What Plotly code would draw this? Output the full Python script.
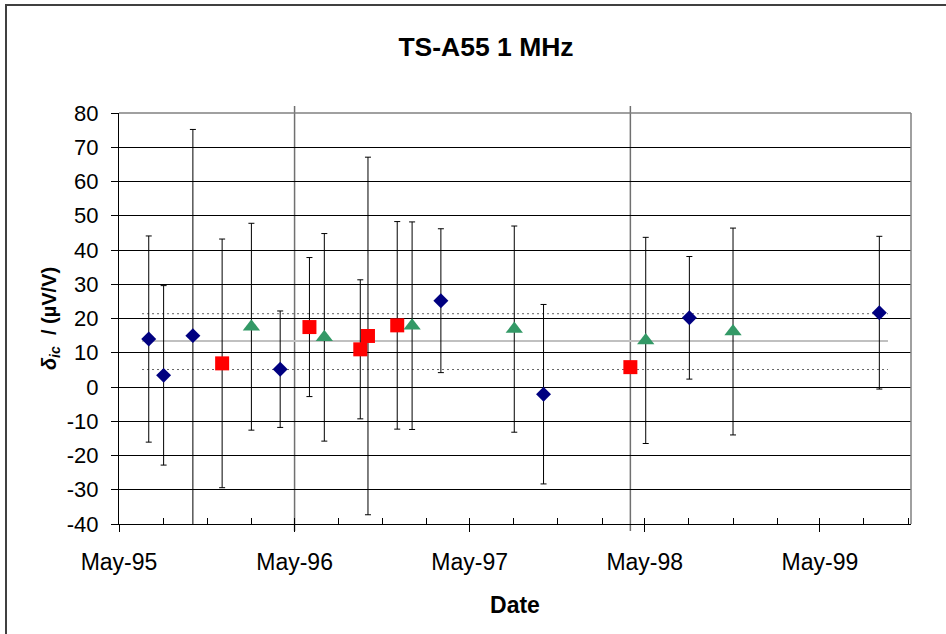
import plotly.graph_objects as go

# Measurement campaigns: date, deviation (µV/V) and expanded uncertainty
lab_a_dates = ["1995-07-02", "1995-08-02", "1995-10-02", "1996-04-01",
               "1997-03-02", "1997-10-02", "1998-08-02", "1999-09-02"]
lab_a_values = [14.0, 3.4, 15.0, 5.2, 25.2, -2.1, 20.2, 21.7]
lab_a_errors = [30.1, 26.2, 60.2, 17.0, 21.0, 26.2, 17.9, 22.3]

lab_b_dates = ["1995-12-02", "1996-06-01", "1996-09-15", "1996-10-01",
               "1996-12-01", "1998-04-01"]
lab_b_values = [6.9, 17.5, 11.0, 14.9, 18.0, 5.8]
lab_b_errors = [36.3, 20.3, 20.3, 52.2, 30.3, 0.0]

lab_c_dates = ["1996-02-01", "1996-07-02", "1997-01-01", "1997-08-02",
               "1998-05-03", "1998-11-01"]
lab_c_values = [17.6, 14.5, 17.9, 16.9, 13.6, 16.2]
lab_c_errors = [30.2, 30.3, 30.3, 30.1, 30.1, 30.2]

# Mean value and its band, drawn over the whole period
band_dates = ["1995-06-18", "1999-09-20"]
mean_value = 13.4
band_upper = 21.4
band_lower = 5.1

# Event markers (full-height vertical lines)
event_dates = ["1996-05-01", "1998-04-01"]

x_range = ["1995-05-01", "1999-11-07"]
tick_dates = ["1995-05-01", "1996-05-01", "1997-05-01", "1998-05-01", "1999-05-01"]
tick_labels = ["May-95", "May-96", "May-97", "May-98", "May-99"]
y_ticks = [-40, -30, -20, -10, 0, 10, 20, 30, 40, 50, 60, 70, 80]
y_tick_labels = [str(v) for v in y_ticks]

FONT = "Liberation Sans, Arial, sans-serif"
NARROW = "Liberation Sans Narrow, Arial Narrow, Liberation Sans, sans-serif"

fig = go.Figure()

# Reference band lines
for level in (band_upper, band_lower):
    fig.add_trace(go.Scatter(x=band_dates, y=[level] * 2, mode="lines",
                             line=dict(color="#666666", width=1, dash="2px,3px"),
                             hoverinfo="skip", showlegend=False))
fig.add_trace(go.Scatter(x=band_dates, y=[mean_value] * 2, mode="lines",
                         line=dict(color="#c0c0c0", width=2),
                         hoverinfo="skip", showlegend=False))

err_style = dict(type="data", visible=True, color="black", thickness=1, width=3)

fig.add_trace(go.Scatter(
    x=lab_a_dates, y=lab_a_values, mode="markers",
    marker=dict(symbol="diamond", size=11.5, color="#000080"),
    error_y=dict(array=lab_a_errors, **err_style), showlegend=False))
fig.add_trace(go.Scatter(
    x=lab_b_dates, y=lab_b_values, mode="markers",
    marker=dict(symbol="square", size=14, color="#ff0000"),
    error_y=dict(array=lab_b_errors, **err_style), showlegend=False))
fig.add_trace(go.Scatter(
    x=lab_c_dates, y=lab_c_values, mode="markers",
    marker=dict(symbol="triangle-up", size=15, color="#339966"),
    error_y=dict(array=lab_c_errors, **err_style), showlegend=False))

# Empty trace that carries the quarterly minor-tick axis
fig.add_trace(go.Scatter(x=[x_range[0]], y=[None], xaxis="x2", mode="markers",
                         hoverinfo="skip", showlegend=False))

shapes = []
for d in event_dates:
    shapes.append(dict(type="line", xref="x", yref="paper", x0=d, x1=d,
                       y0=-0.017, y1=1.017, line=dict(color="#707070", width=1.5),
                       layer="between"))
# Grey plot-area border on top and right
shapes.append(dict(type="line", xref="paper", yref="paper", x0=0, x1=1, y0=1, y1=1,
                   line=dict(color="#808080", width=1.5)))
shapes.append(dict(type="line", xref="paper", yref="paper", x0=1, x1=1, y0=0, y1=1,
                   line=dict(color="#808080", width=1.5)))
# Chart-area frame
shapes.append(dict(type="rect", xref="paper", yref="paper",
                   x0=-113 / 792, x1=1.2, y0=-0.3, y1=(524 - 5) / 411,
                   line=dict(color="#404040", width=2), layer="below"))

fig.update_layout(
    width=946, height=634,
    margin=dict(l=119, r=35, t=113, b=110),
    paper_bgcolor="white", plot_bgcolor="white",
    font=dict(family=FONT, color="black", size=18),
    title=dict(text="<b>TS-A55 1 MHz</b>", x=486 / 946, xref="container", xanchor="center",
               y=1 - 47 / 634, yref="container", yanchor="middle",
               font=dict(family=FONT, size=26.5, color="black")),
    xaxis=dict(type="date", range=x_range, tickvals=tick_dates, ticktext=tick_labels,
               ticks="outside", ticklen=7, tickcolor="black", tickwidth=1,
               ticklabelstandoff=10,
               showline=True, linecolor="black", linewidth=1, showgrid=False,
               zeroline=False, tickfont=dict(family=NARROW, size=23),
               title=dict(text="<b>Date</b>", font=dict(family=FONT, size=23), standoff=23)),
    xaxis2=dict(type="date", range=x_range, overlaying="x", anchor="y",
                tick0="1995-05-01", dtick="M3", ticks="inside", ticklen=6,
                tickcolor="black", tickwidth=1, showticklabels=False,
                showgrid=False, zeroline=False, showline=False),
    yaxis=dict(range=[-40, 80], tickvals=y_ticks, ticktext=y_tick_labels,
               ticks="outside", ticklen=7, ticklabelstandoff=8,
               tickcolor="black", showline=True, linecolor="black", linewidth=1,
               showgrid=True, gridcolor="black", gridwidth=1, zeroline=False,
               tickfont=dict(family=NARROW, size=22),
               title=dict(text="<b><i>δ<sub>ic</sub></i>  / (µV/V)</b>",
                          font=dict(family=FONT, size=20), standoff=4)),
    shapes=shapes,
)

fig.write_html("out.html")
